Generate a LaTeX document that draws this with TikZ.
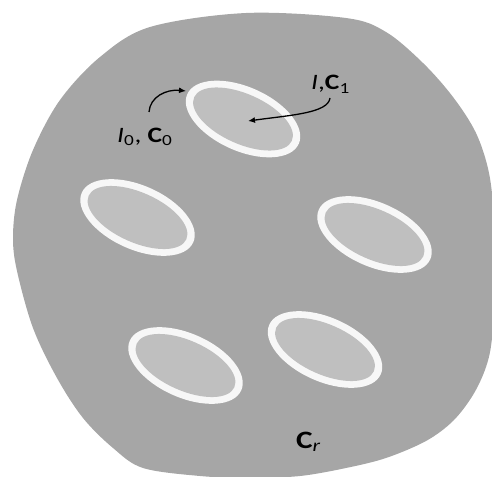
\documentclass[tikz,border=0pt]{standalone}
\usepackage{fontspec}
\setmainfont{Carlito}
\usepackage{graphicx}
\usetikzlibrary{arrows.meta}
\definecolor{blobgray}{RGB}{166,166,166}
\definecolor{holegray}{RGB}{191,191,191}
\definecolor{ringwhite}{RGB}{247,247,247}
\begin{document}
\begin{tikzpicture}[x=1pt,y=-1pt,
  ringfill/.style={fill=ringwhite},
  holefill/.style={fill=holegray},
  lbl/.style={inner sep=0pt, anchor=base west, font=\fontsize{22}{26}\selectfont},
  conn/.style={-{Latex[length=7pt,width=6pt]}, line width=1.3pt, black}]
\useasboundingbox (0,0) rectangle (492,476);
\begin{scope}
\clip (0,0) rectangle (492,476);
\fill[blobgray] plot[smooth cycle, tension=0.55] coordinates {
 (246,13) (346,18) (386,32) (423,63) (453,97) (476,133) (489,173) (494,220)
 (495,280) (492,338) (486,367) (473,395) (453,421) (426,441) (386,458)
 (346,468) (300,476) (250,478) (200,476) (143,468) (113,448) (83,418)
 (57,378) (33,328) (17,271) (13,238) (17,200) (33,150) (60,100) (100,57) (150,27)};
\end{scope}
\foreach \cx/\cy [count=\i] in {243/119, 137.5/217.5, 374.5/234.5, 185.5/365.5, 325/349.5}{
  \coordinate (e\i) at (\cx,\cy);
  \fill[ringfill] (e\i) circle [x radius=61pt, y radius=32pt, rotate=-24];
  \fill[holefill] (e\i) circle [x radius=53.5pt, y radius=25pt, rotate=-24];
}
\node[lbl] (l0) at (117,142) {\scalebox{1.25}[1]{\textit{I}\textsubscript{0}, \textbf{C}\textsubscript{0}}};
\node[lbl] (l1) at (311,90) {\scalebox{1.25}[1]{\textit{I},\textbf{C}\textsubscript{1}}};
\node[lbl, font=\fontsize{25}{30}\selectfont] (lr) at (296,448) {\scalebox{1.25}[1]{\textbf{C}\textsubscript{\textit{r}}}};
\coordinate (s0) at (149,112);
\coordinate (t0) at (186,91);
\coordinate (s1) at (330,98);
\coordinate (t1) at (248,121);
\draw[conn] (s0) .. controls (150,97) and (166,89) .. (t0);
\draw[conn] (s1) .. controls (328,113) and (292,115) .. (t1);
\end{tikzpicture}
\end{document}
